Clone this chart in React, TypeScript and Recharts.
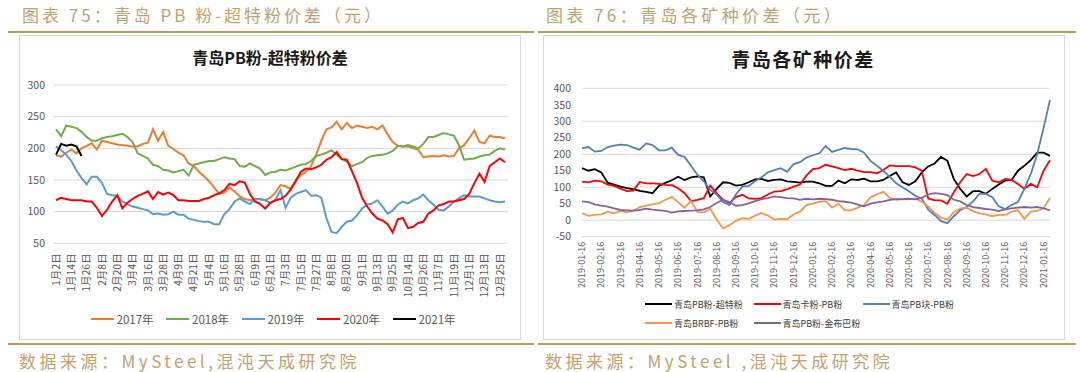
import React from 'react';
import { LineChart, Line, XAxis, YAxis, CartesianGrid, Legend } from 'recharts';

const FONT = "'Noto Sans CJK SC', 'Noto Sans', sans-serif";

// ---------- Left chart: 青岛PB粉-超特粉价差 ----------
const leftLabels = ['1月2日', '1月14日', '1月26日', '2月8日', '2月20日', '3月4日', '3月16日', '3月28日', '4月9日', '4月21日', '5月4日', '5月16日', '5月28日', '6月9日', '6月21日', '7月3日', '7月15日', '7月27日', '8月8日', '8月20日', '9月1日', '9月13日', '9月25日', '10月14日', '10月26日', '11月7日', '11月19日', '12月1日', '12月13日', '12月25日'];

const s2017 = [189, 187, 193, 198, 192, 200, 204, 208, 198, 212, 210, 208, 206, 205, 204, 203, 203, 207, 209, 230, 212, 226, 204, 199, 193, 189, 176, 172, 163, 156, 148, 138, 128, 130, 138, 132, 124, 120, 118, 119, 120, 118, 122, 130, 142, 140, 136, 150, 158, 163, 172, 190, 212, 230, 233, 242, 230, 240, 232, 236, 234, 232, 234, 230, 236, 222, 210, 204, 203, 203, 200, 198, 186, 187, 188, 187, 189, 187, 188, 200, 205, 216, 228, 210, 208, 220, 218, 218, 216];
const s2018 = [230, 219, 236, 234, 232, 226, 218, 212, 212, 216, 218, 219, 221, 223, 218, 210, 192, 188, 184, 174, 172, 166, 165, 162, 164, 166, 157, 174, 176, 178, 180, 180, 183, 186, 184, 183, 172, 171, 176, 172, 168, 158, 162, 163, 166, 165, 168, 171, 174, 175, 180, 188, 190, 193, 197, 190, 183, 179, 172, 175, 178, 185, 188, 189, 190, 192, 196, 204, 203, 205, 203, 200, 207, 218, 218, 221, 224, 222, 220, 205, 182, 183, 184, 187, 189, 190, 196, 200, 198];
const s2019 = [203, 197, 190, 180, 165, 153, 143, 155, 155, 145, 128, 126, 125, 116, 112, 108, 106, 104, 102, 96, 97, 95, 96, 100, 95, 95, 89, 87, 85, 84, 84, 80, 80, 96, 104, 116, 121, 116, 112, 120, 120, 118, 114, 118, 134, 106, 122, 128, 131, 134, 125, 126, 122, 90, 68, 66, 76, 84, 86, 94, 105, 111, 113, 118, 108, 97, 102, 111, 116, 113, 118, 121, 127, 118, 111, 103, 102, 108, 116, 121, 126, 124, 124, 124, 121, 118, 116, 115, 116];
const s2020 = [118, 122, 120, 118, 118, 118, 116, 116, 106, 93, 103, 116, 126, 105, 114, 120, 125, 128, 132, 120, 131, 127, 130, 126, 118, 118, 117, 117, 117, 120, 122, 126, 129, 134, 144, 142, 148, 146, 128, 116, 112, 105, 114, 118, 120, 125, 135, 148, 163, 168, 167, 170, 174, 182, 186, 194, 183, 182, 164, 145, 122, 108, 97, 89, 86, 80, 67, 88, 90, 74, 76, 82, 84, 97, 102, 110, 112, 116, 116, 118, 120, 128, 145, 160, 147, 172, 178, 184, 178];
const s2021 = [190, 207, 204, 206, 203, 188];
const leftYTicks = [50, 100, 150, 200, 250, 300];

const leftSeries = [
  { key: 'y2017', name: '2017年', color: '#ED7D31', values: s2017 },
  { key: 'y2018', name: '2018年', color: '#70AD47', values: s2018 },
  { key: 'y2019', name: '2019年', color: '#5B9BD5', values: s2019 },
  { key: 'y2020', name: '2020年', color: '#FF0000', values: s2020 },
  { key: 'y2021', name: '2021年', color: '#000000', values: s2021 },
];

// ---------- Right chart: 青岛各矿种价差 ----------
const rightLabels = ['2019-01-16', '2019-02-16', '2019-03-16', '2019-04-16', '2019-05-16', '2019-06-16', '2019-07-16', '2019-08-16', '2019-09-16', '2019-10-16', '2019-11-16', '2019-12-16', '2020-01-16', '2020-02-16', '2020-03-16', '2020-04-16', '2020-05-16', '2020-06-16', '2020-07-16', '2020-08-16', '2020-09-16', '2020-10-16', '2020-11-16', '2020-12-16', '2021-01-16'];

const pbSuper = [158, 150, 155, 145, 114, 108, 102, 97, 94, 89, 86, 82, 104, 113, 121, 132, 122, 130, 133, 130, 72, 95, 115, 113, 105, 107, 115, 124, 125, 119, 122, 124, 118, 116, 114, 117, 117, 112, 104, 104, 120, 112, 124, 122, 126, 118, 118, 122, 134, 145, 115, 107, 118, 145, 163, 172, 192, 180, 125, 95, 72, 88, 88, 80, 95, 108, 120, 122, 150, 165, 182, 205, 205, 195];
const cardPb = [117, 115, 120, 118, 108, 104, 96, 88, 90, 116, 112, 112, 110, 107, 106, 97, 82, 58, 62, 67, 105, 82, 62, 52, 70, 77, 66, 65, 67, 78, 87, 88, 94, 102, 108, 135, 155, 158, 168, 163, 158, 152, 156, 150, 146, 146, 142, 152, 166, 164, 164, 164, 160, 150, 66, 60, 60, 50, 85, 115, 140, 134, 140, 156, 120, 115, 125, 122, 110, 95, 110, 100, 150, 182];
const lumpPb = [218, 222, 208, 210, 222, 226, 229, 228, 220, 214, 233, 228, 212, 212, 220, 198, 192, 165, 138, 118, 92, 78, 55, 46, 78, 102, 104, 118, 130, 145, 152, 158, 147, 170, 176, 190, 197, 203, 225, 207, 213, 219, 216, 215, 205, 180, 165, 150, 132, 112, 100, 88, 74, 65, 32, 16, -3, -9, 12, 30, 40, 57, 80, 80, 70, 42, 34, 46, 55, 95, 140, 200, 280, 365];
const brbfPb = [21, 13, 16, 18, 26, 21, 28, 24, 28, 40, 44, 48, 52, 62, 70, 55, 38, 58, 25, 24, 35, 2, -25, -15, -2, 6, 4, 14, 22, 14, 2, 4, 3, 18, 26, 46, 50, 56, 58, 38, 50, 30, 30, 38, 46, 70, 78, 86, 68, 62, 64, 63, 66, 56, 41, 22, 8, 2, 24, 36, 38, 27, 21, 18, 12, 16, 16, 26, 30, 4, 26, 28, 36, 68];
const pbJmb = [57, 55, 48, 44, 41, 36, 31, 30, 29, 31, 35, 32, 30, 28, 23, 27, 28, 29, 30, 33, 40, 52, 62, 55, 44, 46, 51, 58, 64, 67, 72, 70, 67, 66, 62, 65, 63, 65, 64, 62, 58, 56, 53, 47, 42, 50, 54, 57, 62, 64, 64, 65, 63, 68, 78, 82, 80, 76, 62, 57, 46, 40, 37, 34, 32, 28, 33, 36, 38, 40, 38, 40, 36, 30];
const rightYTicks = [-50, 0, 50, 100, 150, 200, 250, 300, 350, 400];

const rightSeries = [
  { key: 'a', name: '青岛PB粉-超特粉', color: '#000000', values: pbSuper },
  { key: 'b', name: '青岛卡粉-PB粉', color: '#FF0000', values: cardPb },
  { key: 'c', name: '青岛PB块-PB粉', color: '#4F81BD', values: lumpPb },
  { key: 'd', name: '青岛BRBF-PB粉', color: '#F79646', values: brbfPb },
  { key: 'e', name: '青岛PB粉-金布巴粉', color: '#8064A2', values: pbJmb },
];

// ---------- build tables ----------
const buildData = (series: typeof leftSeries, n: number) =>
  Array.from({ length: n }, (_, i) => {
    const row: Record<string, number | undefined> = { i };
    series.forEach((s) => { row[s.key] = s.values[i]; });
    return row;
  });

const leftData = buildData(leftSeries, s2017.length);
const rightData = buildData(rightSeries, pbSuper.length);
const leftTicks = leftLabels.map((_, k) => k * 3);
const rightTicks = rightLabels.map((_, k) => k * 3);

const RotTick = (props: any) => {
  const { x, y, payload, labels, fontSize } = props;
  const label = labels[Math.round(payload.value / 3)];
  return (
    <text x={x} y={y} transform={`rotate(-90, ${x}, ${y})`} textAnchor="end" dy="0.35em"
      fontSize={fontSize} fill="#595959" fontFamily={FONT}>{label}</text>
  );
};

const LeftLegend = () => (
  <div style={{ position: 'relative', width: 420, height: 16 }}>
    {leftSeries.map((it, k) => (
      <div key={k} style={{ position: 'absolute', left: k * 75.5, top: 0, height: 16, display: 'flex', alignItems: 'center', whiteSpace: 'nowrap' }}>
        <span style={{ display: 'inline-block', width: 23, height: 2, background: it.color }} />
        <span style={{ marginLeft: 3, fontSize: 11.5, color: '#595959', fontFamily: FONT }}>{it.name}</span>
      </div>
    ))}
  </div>
);

const RightLegend = () => {
  const pos = [[0, 0], [108.5, 0], [217.6, 0], [0, 19], [108.5, 19]];
  return (
    <div style={{ position: 'relative', width: 330, height: 36 }}>
      {rightSeries.map((it, k) => (
        <div key={k} style={{ position: 'absolute', left: pos[k][0], top: pos[k][1], height: 16, display: 'flex', alignItems: 'center', whiteSpace: 'nowrap' }}>
          <span style={{ display: 'inline-block', width: 27, height: 2, background: it.color }} />
          <span style={{ marginLeft: 2, fontSize: 9, color: '#404040', fontFamily: FONT }}>{it.name}</span>
        </div>
      ))}
    </div>
  );
};

const gold = '#BF9B5E';
const goldText = '#C2A271';

const abs = (s: React.CSSProperties): React.CSSProperties => ({ position: 'absolute', ...s });

export default function App() {
  return (
    <div style={abs({ left: 0, top: 0, width: 1080, height: 372, background: '#fff', overflow: 'hidden', fontFamily: FONT })}>
      {/* headers */}
      <div style={abs({ left: 22, top: 3, height: 24, lineHeight: '24px', fontSize: 17, letterSpacing: 3, color: goldText, whiteSpace: 'nowrap' })}>图表 75：青岛 PB 粉-超特粉价差（元）</div>
      <div style={abs({ left: 546, top: 3, height: 24, lineHeight: '24px', fontSize: 17, letterSpacing: 3.4, color: goldText, whiteSpace: 'nowrap' })}>图表 76：青岛各矿种价差（元）</div>
      <div style={abs({ left: 8, top: 31, width: 526, height: 2, background: gold })} />
      <div style={abs({ left: 538, top: 31, width: 538, height: 2, background: gold })} />

      {/* boxes */}
      <div style={abs({ left: 19, top: 35, width: 502, height: 305, border: '1px solid #D9D9D9', boxSizing: 'border-box' })} />
      <div style={abs({ left: 543, top: 35, width: 522, height: 305, border: '1px solid #D9D9D9', boxSizing: 'border-box' })} />

      {/* titles */}
      <div style={abs({ left: 120, width: 300, top: 45, height: 24, lineHeight: '24px', textAlign: 'center', fontSize: 16, fontWeight: 700, color: '#1a1a1a' })}>青岛PB粉-超特粉价差</div>
      <div style={abs({ left: 653, width: 300, top: 46, height: 26, lineHeight: '26px', textAlign: 'center', fontSize: 19, fontWeight: 700, letterSpacing: 1.5, color: '#1a1a1a' })}>青岛各矿种价差</div>

      {/* left chart */}
      <div style={abs({ left: 0, top: 0, width: 540, height: 372 })}>
        <LineChart width={540} height={372} data={leftData} margin={{ top: 85, right: 32, bottom: 68.7, left: 14 }}>
          <CartesianGrid vertical={false} stroke="#D9D9D9" />
          <XAxis type="number" dataKey="i" domain={[-0.4, 88.6]} ticks={leftTicks} interval={0} height={60}
            tickSize={0} tickMargin={10} axisLine={false} tickLine={false}
            tick={<RotTick labels={leftLabels} fontSize={10.5} />} />
          <YAxis domain={[50, 300]} ticks={leftYTicks} width={40} tickSize={0} tickMargin={9} axisLine={false} tickLine={false}
            tick={{ fontSize: 10.5, fill: '#595959', fontFamily: FONT }} />
          {leftSeries.map((s) => (
            <Line key={s.key} dataKey={s.key} name={s.name} stroke={s.color} strokeWidth={2} dot={false}
              isAnimationActive={false} type="linear" />
          ))}
          <Legend verticalAlign="middle" align="center" layout="horizontal" content={<LeftLegend />}
            wrapperStyle={{ left: 90.6, top: 311, width: 420, height: 16 }} />
        </LineChart>
      </div>

      {/* right chart */}
      <div style={abs({ left: 540, top: 0, width: 540, height: 372 })}>
        <LineChart width={540} height={372} data={rightData} margin={{ top: 88.3, right: 30, bottom: 75.3, left: 6 }}>
          <CartesianGrid vertical={false} stroke="#D9D9D9" />
          <XAxis type="number" dataKey="i" domain={[0, 73]} ticks={rightTicks} interval={0} height={60}
            tickSize={0} tickMargin={5} axisLine={false} tickLine={false}
            tick={<RotTick labels={rightLabels} fontSize={9} />} />
          <YAxis domain={[-50, 400]} ticks={rightYTicks} width={36} tickSize={0} tickMargin={11} axisLine={false} tickLine={false}
            tick={{ fontSize: 10.5, fill: '#595959', fontFamily: FONT }} />
          {rightSeries.map((s) => (
            <Line key={s.key} dataKey={s.key} name={s.name} stroke={s.color} strokeWidth={1.8} dot={false}
              isAnimationActive={false} type="linear" />
          ))}
          <Legend verticalAlign="middle" align="center" layout="horizontal" content={<RightLegend />}
            wrapperStyle={{ left: 105, top: 296, width: 330, height: 36 }} />
        </LineChart>
      </div>

      {/* bottom lines & sources */}
      <div style={abs({ left: 8, top: 343, width: 526, height: 1.5, background: gold })} />
      <div style={abs({ left: 538, top: 343, width: 538, height: 1.5, background: gold })} />
      <div style={abs({ left: 19, top: 349, height: 24, lineHeight: '24px', fontSize: 17, letterSpacing: 3.5, color: goldText, whiteSpace: 'nowrap' })}>数据来源：MySteel,混沌天成研究院</div>
      <div style={abs({ left: 545, top: 349, height: 24, lineHeight: '24px', fontSize: 17, letterSpacing: 3.5, color: goldText, whiteSpace: 'nowrap' })}>数据来源：MySteel ,混沌天成研究院</div>
    </div>
  );
}
